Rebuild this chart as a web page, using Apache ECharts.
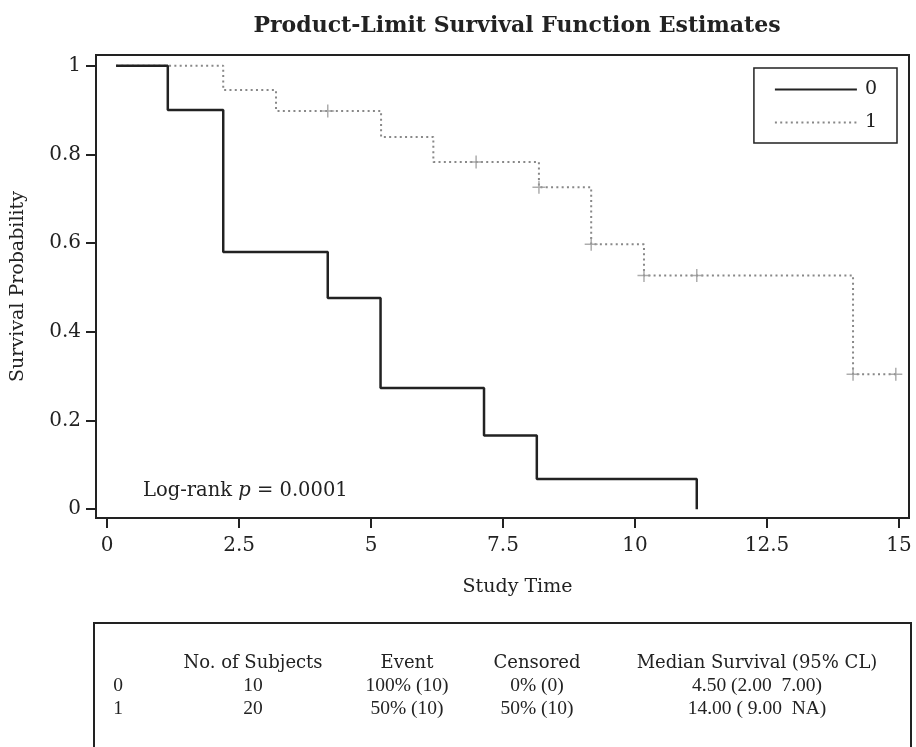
<!DOCTYPE html>
<html>
<head>
<meta charset="utf-8">
<script src="https://cdn.jsdelivr.net/npm/echarts@6/dist/echarts.min.js"></script>
<style>
  html, body { margin: 0; padding: 0; background: #fff; }
  #chart { width: 916px; height: 747px; }
</style>
</head>
<body>
<div id="chart"></div>
<script>
// group 0 : step curve (time where the level starts, survival level)
var time0 = [0.17, 1.15, 2.2, 4.18, 5.18, 7.14, 8.14, 11.17];
var surv0 = [1, 0.9, 0.58, 0.476, 0.273, 0.166, 0.068, 0];

// group 1
var time1 = [0.17, 2.2, 3.2, 5.19, 6.18, 8.18, 9.17, 10.17, 14.13, 14.94];
var surv1 = [1, 0.945, 0.898, 0.839, 0.783, 0.726, 0.597, 0.527, 0.304, 0.304];

// censored observations of group 1
var censTime1 = [4.18, 6.99, 8.18, 9.17, 10.17, 11.17, 14.13, 14.94];
var censSurv1 = [0.898, 0.783, 0.726, 0.597, 0.527, 0.527, 0.304, 0.304];

var xTicks = [0, 2.5, 5, 7.5, 10, 12.5, 15];
var yTicks = [0, 0.2, 0.4, 0.6, 0.8, 1];

var tableHeader = ['', 'No. of Subjects', 'Event', 'Censored', 'Median Survival (95% CL)'];
var tableRows = [
	['0', '10', '100% (10)', '0% (0)', '4.50 (2.00  7.00)'],
	['1', '20', '50% (10)', '50% (10)', '14.00 ( 9.00  NA)']
];

var FONT = '"DejaVu Serif", "Liberation Serif", serif';
var ROWFONT = '"Liberation Serif", serif';
var INK = '#222';

function pairs(xs, ys) {
	return xs.map(function (x, i) { return [x, ys[i]]; });
}

var myChart = echarts.init(document.getElementById('chart'));

// table under the plot, built as graphic elements
var colX = [118, 253, 407, 537, 757];
var rowY = [663, 686, 709];
var tableEls = [{
	type: 'rect',
	shape: { x: 94, y: 623, width: 817, height: 140 },
	style: { fill: 'none', stroke: INK, lineWidth: 2 }
}];
[tableHeader].concat(tableRows).forEach(function (row, r) {
	row.forEach(function (txt, c) {
		if (!txt) return;
		tableEls.push({
			type: 'text',
			x: colX[c], y: rowY[r],
			style: {
				text: txt,
				font: r === 0 ? '18px ' + FONT : '19.5px ' + ROWFONT,
				fill: INK, align: 'center', verticalAlign: 'middle'
			}
		});
	});
});

var option = {
	animation: false,
	title: {
		text: 'Product-Limit Survival Function Estimates',
		left: 512, top: 10, textAlign: 'center',
		textStyle: { fontFamily: FONT, fontWeight: 'bold', fontSize: 22, color: INK }
	},
	legend: {
		data: ['0', '1'],
		orient: 'vertical',
		right: 19, top: 68,
		itemWidth: 82, itemHeight: 14, itemGap: 14,
		padding: [12, 20, 11, 20],
		borderColor: INK, borderWidth: 1.5,
		itemStyle: { color: 'rgba(0,0,0,0)', borderWidth: 0, opacity: 0 },
		textStyle: { fontFamily: FONT, fontSize: 19, color: INK, padding: [0, 0, 0, 3] }
	},
	grid: {
		left: 96, right: 7, top: 55, bottom: 229,
		show: true, borderColor: INK, borderWidth: 2
	},
	xAxis: {
		type: 'value', min: -0.21, max: 15.19,
		name: 'Study Time', nameLocation: 'middle', nameGap: 60,
		nameTextStyle: { fontFamily: FONT, fontSize: 19, color: INK, padding: [0, 0, 0, 30] },
		splitLine: { show: false },
		axisLine: { onZero: false, lineStyle: { color: INK, width: 2 } },
		axisTick: { customValues: xTicks, length: 10, lineStyle: { color: INK, width: 2 } },
		axisLabel: { customValues: xTicks, margin: 18, fontFamily: FONT, fontSize: 20, color: INK }
	},
	yAxis: {
		type: 'value', min: -0.02, max: 1.024,
		name: 'Survival Probability', nameLocation: 'middle', nameGap: 68,
		nameTextStyle: { fontFamily: FONT, fontSize: 19, color: INK },
		splitLine: { show: false },
		axisLine: { onZero: false, lineStyle: { color: INK, width: 2 } },
		axisTick: { customValues: yTicks, length: 10, lineStyle: { color: INK, width: 2 } },
		axisLabel: { customValues: yTicks, margin: 15, fontFamily: FONT, fontSize: 20, color: INK }
	},
	graphic: [{
		type: 'text',
		left: 143, top: 481,
		style: {
			text: '{a|Log-rank }{i|p}{a| = 0.0001}',
			rich: {
				a: { fontFamily: FONT, fontSize: 19.5, fill: INK },
				i: { fontFamily: FONT, fontSize: 19.5, fontStyle: 'italic', fill: INK }
			}
		}
	}].concat(tableEls),
	series: [
		{
			name: '1', type: 'line', step: 'end', symbol: 'none', z: 2,
			data: pairs(time1, surv1),
			lineStyle: { color: '#888', width: 2, type: [2, 3.3] },
			itemStyle: { color: '#888' }
		},
		{
			name: 'censored', type: 'scatter', z: 3,
			symbol: 'path://M5,0L5,10M0,5L10,5', symbolSize: 13,
			data: pairs(censTime1, censSurv1),
			itemStyle: { color: 'none', borderColor: '#999', borderWidth: 1.5 }
		},
		{
			name: '0', type: 'line', step: 'end', symbol: 'none', z: 4,
			data: pairs(time0, surv0),
			lineStyle: { color: INK, width: 2.5 },
			itemStyle: { color: INK }
		}
	]
};

myChart.setOption(option);
</script>
</body>
</html>
